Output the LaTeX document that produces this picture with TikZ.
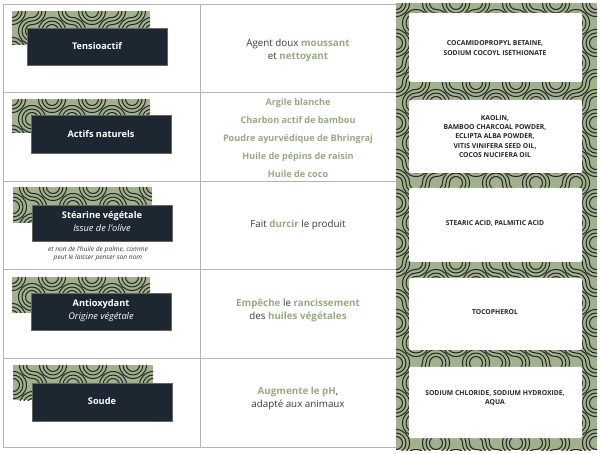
\documentclass[tikz,border=0pt]{standalone}
\usepackage{fontspec}
\setmainfont{Open Sans}
\definecolor{sage}{HTML}{A0B18C}
\definecolor{navy}{HTML}{1D2731}
\definecolor{gtext}{HTML}{97AA82}
\definecolor{dtext}{HTML}{3A3A3A}
\definecolor{rulec}{HTML}{B4B4B4}
\tikzset{
  patline/.style={draw=black!85, line width=1pt},
  tabrule/.style={draw=rulec, line width=0.9pt},
  labelbox/.style={fill=navy, draw=black!60, line width=0.3pt},
  wbox/.style={fill=white, rounded corners=1.5pt},
  labtext/.style={text=white, font=\fontsize{9.2}{14}\selectfont\bfseries, align=center, inner sep=0pt},
  midtext/.style={text=dtext, font=\fontsize{9.8}{13}\selectfont, align=center, inner sep=0pt},
  listtext/.style={text=gtext, font=\fontsize{9.1}{17.8}\selectfont\bfseries, align=center, inner sep=0pt},
  inci/.style={text=black!85, font=\fontsize{6.8}{9.3}\selectfont\bfseries, align=center, inner sep=0pt},
}
\newcommand{\gr}[1]{{\color{gtext}\bfseries #1}}
\newcommand{\truchetfill}[4]{%
  \begin{scope}
    \clip (#1,-#2) rectangle (#3,-#4);
    \fill[sage] (#1,-#2) rectangle (#3,-#4);
    \pgfmathtruncatemacro{\nx}{ceil((#3-#1)/20)}
    \pgfmathtruncatemacro{\ny}{ceil((#4-#2)/20)}
    \foreach \i in {0,...,\nx}{
      \foreach \j in {0,...,\ny}{
        \pgfmathsetmacro{\tx}{#1+\i*20+10}
        \pgfmathsetmacro{\ty}{#2+\j*20+10}
        \pgfmathtruncatemacro{\ha}{mod(\i*\i*31+\j*17+#2,29)}
        \pgfmathtruncatemacro{\hb}{mod(\j*\j*7+\i*13+\ha*\j+#1,31)}
        \pgfmathtruncatemacro{\kk}{mod(\ha*\hb+\i+\j*3,2)}
        \pgfmathsetmacro{\ang}{90*\kk}
        \begin{scope}[shift={(\tx,-\ty)}, rotate=\ang]
          \foreach \r in {6.5,10,13.5}{
            \draw[patline] (-10,10-\r) arc[start angle=270,end angle=360,radius=\r];
            \draw[patline] (10,-10+\r) arc[start angle=90,end angle=180,radius=\r];
          }
        \end{scope}
      }
    }
  \end{scope}}
\begin{document}
\begin{tikzpicture}[x=1pt,y=1pt]
\useasboundingbox[fill=white] (0,0) rectangle (600,-454);

% table rules
\draw[tabrule] (3,-4) rectangle (397,-447);
\foreach \yy in {92,181,269,358}{\draw[tabrule] (3,-\yy) -- (397,-\yy);}
\draw[tabrule] (200,-4) -- (200,-447);

% right column pattern + white boxes
\truchetfill{396}{3}{597}{450}
\path[wbox] (409,-13) rectangle (582,-82);
\path[wbox] (409,-100) rectangle (582,-173);
\path[wbox] (409,-188) rectangle (582,-262);
\path[wbox] (409,-278) rectangle (582,-350);
\path[wbox] (409,-367) rectangle (582,-438);

% left labels
\truchetfill{12}{11}{150}{45}
\draw[labelbox] (27,-28) rectangle (167,-65);
\node[labtext] (l1) at (97,-46) {Tensioactif};

\truchetfill{12}{99}{150}{133}
\draw[labelbox] (31,-115) rectangle (171,-153);
\node[labtext] (l2) at (101,-134) {Actifs naturels};

\truchetfill{13}{187}{152}{223}
\draw[labelbox] (32,-205) rectangle (172,-241);
\node[labtext] (l3) at (102,-221.5) {Stéarine végétale\\[-0.5pt]{\mdseries\itshape Issue de l'olive}};
\node[text=dtext, font=\fontsize{6.6}{8.5}\selectfont\itshape, align=center, inner sep=0pt] (l3b) at (98,-254) {et non de l'huile de palme, comme\\peut le laisser penser son nom};

\truchetfill{12}{277}{150}{313}
\draw[labelbox] (31,-293) rectangle (171,-330);
\node[labtext] (l4) at (101,-311) {Antioxydant\\[-1pt]{\mdseries\itshape Origine végétale}};

\truchetfill{13}{365}{153}{400}
\draw[labelbox] (32,-383) rectangle (172,-421);
\node[labtext] (l5) at (102,-401) {Soude};

% middle column
\node[midtext] (m1) at (298,-50.5) {Agent doux \gr{moussant}\\et \gr{nettoyant}};
\node[listtext] (m2) at (298,-138) {Argile blanche\\Charbon actif de bambou\\Poudre ayurvédique de Bhringraj\\Huile de pépins de raisin\\Huile de coco};
\node[midtext] (m3) at (298,-225) {Fait \gr{durcir} le produit};
\node[midtext] (m4) at (298,-310.5) {\gr{Empêche} le \gr{rancissement}\\des \gr{huiles végétales}};
\node[midtext] (m5) at (298,-398.5) {\gr{Augmente le pH},\\adapté aux animaux};

% right column texts
\node[inci] (r1) at (495,-48) {COCAMIDOPROPYL BETAINE,\\SODIUM COCOYL ISETHIONATE};
\node[inci] (r2) at (495,-136.5) {KAOLIN,\\BAMBOO CHARCOAL POWDER,\\ECLIPTA ALBA POWDER,\\VITIS VINIFERA SEED OIL,\\COCOS NUCIFERA OIL};
\node[inci] (r3) at (495,-223) {STEARIC ACID, PALMITIC ACID};
\node[inci] (r4) at (495,-312) {TOCOPHEROL};
\node[inci] (r5) at (495,-398) {SODIUM CHLORIDE, SODIUM HYDROXIDE,\\AQUA};
\end{tikzpicture}
\end{document}
